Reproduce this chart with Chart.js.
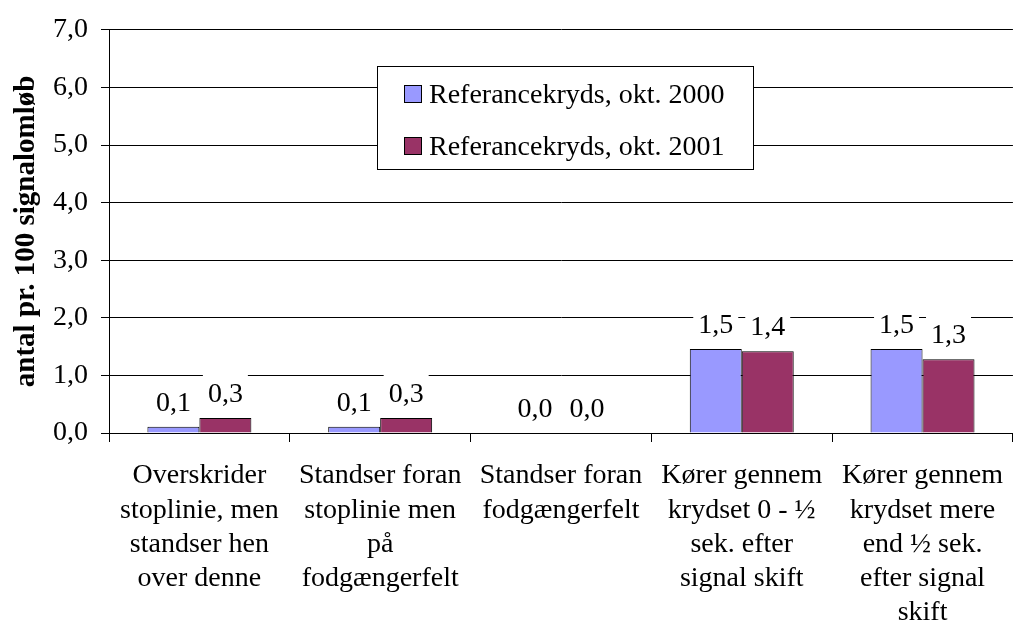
<!DOCTYPE html>
<html>
<head>
<meta charset="utf-8">
<script src="https://cdn.jsdelivr.net/npm/chart.js@4.4.1/dist/chart.umd.min.js"></script>
<style>
  body { margin: 0; background: #fff; overflow: hidden; }
</style>
</head>
<body>
<canvas id="chartKryds" width="1020" height="622"></canvas>
<script>
// data
const categories = [
    ['Overskrider', 'stoplinie, men', 'standser hen', 'over denne'],
    ['Standser foran', 'stoplinie men', 'på', 'fodgængerfelt'],
    ['Standser foran', 'fodgængerfelt'],
    ['Kører gennem', 'krydset 0 - ½', 'sek. efter', 'signal skift'],
    ['Kører gennem', 'krydset mere', 'end ½ sek.', 'efter signal', 'skift']
];
const serieLabels = ['Referancekryds, okt. 2000', 'Referancekryds, okt. 2001'];
const values2000 = [0.11, 0.11, 0.0, 1.46, 1.46];
const values2001 = [0.26, 0.26, 0.0, 1.42, 1.28];
const yTicks = [0, 1, 2, 3, 4, 5, 6, 7];

const FONT = '"Liberation Serif", "Times New Roman", serif';
const fmt = (v) => v.toFixed(1).replace('.', ',');

// etiketter over søjlerne, med hvid baggrund
const labelPlugin = {
    id: 'labelPlugin',
    afterDatasetsDraw(chart) {
        const ctx = chart.ctx;
        ctx.save();
        ctx.font = '28px ' + FONT;
        ctx.textAlign = 'center';
        ctx.textBaseline = 'alphabetic';
        chart.data.datasets.forEach((ds, i) => {
            const meta = chart.getDatasetMeta(i);
            meta.data.forEach((bar, j) => {
                const txt = fmt(ds.data[j]);
                const w = ctx.measureText(txt).width;
                const base = bar.y - 16;
                ctx.fillStyle = '#fff';
                ctx.fillRect(bar.x - w / 2 - 5, base - 28, w + 10, 34);
                ctx.fillStyle = '#000';
                ctx.fillText(txt, bar.x, base);
            });
        });
        ctx.restore();
    }
};

// legend i boks inde i plotområdet
const legendBox = {
    id: 'legendBox',
    afterDraw(chart) {
        const ctx = chart.ctx;
        ctx.save();
        ctx.fillStyle = '#fff';
        ctx.fillRect(377.5, 66.5, 376, 103);
        ctx.strokeStyle = '#000';
        ctx.lineWidth = 1;
        ctx.strokeRect(377.5, 66.5, 376, 103);
        ctx.font = '28px ' + FONT;
        ctx.textBaseline = 'alphabetic';
        chart.data.datasets.forEach((ds, i) => {
            const y = 94 + i * 52;
            ctx.fillStyle = ds.backgroundColor;
            ctx.fillRect(404.5, y - 8.5, 17, 17);
            ctx.strokeRect(404.5, y - 8.5, 17, 17);
            ctx.fillStyle = '#000';
            ctx.fillText(ds.label, 429, y + 9);
        });
        ctx.restore();
    }
};

const ctxBar = document.getElementById('chartKryds');
const chart = new Chart(ctxBar, {
    type: 'bar',
    data: {
        labels: categories,
        datasets: [{
            label: serieLabels[0],
            data: values2000,
            backgroundColor: '#9999FF',
            borderColor: '#000',
            borderWidth: 1,
            categoryPercentage: 0.575,
            barPercentage: 1
        }, {
            label: serieLabels[1],
            data: values2001,
            backgroundColor: '#993366',
            borderColor: '#000',
            borderWidth: 1,
            categoryPercentage: 0.575,
            barPercentage: 1
        }]
    },
    options: {
        responsive: false,
        animation: false,
        layout: { padding: { top: 28, right: 0, left: 0, bottom: 0 } },
        plugins: {
            legend: { display: false },
            tooltip: { enabled: false }
        },
        scales: {
            x: {
                grid: {
                    display: true,
                    drawOnChartArea: false,
                    drawTicks: true,
                    tickLength: 9,
                    color: '#000'
                },
                border: { color: '#000', width: 1 },
                ticks: {
                    color: '#000',
                    font: { family: FONT, size: 28, lineHeight: 1.22 },
                    maxRotation: 0,
                    autoSkip: false,
                    padding: 17
                },
                afterFit(scale) { scale.height = 189; }
            },
            y: {
                min: 0,
                max: 7,
                afterBuildTicks(scale) {
                    scale.ticks = yTicks.map(v => ({ value: v }));
                },
                grid: {
                    color: '#000',
                    tickLength: 8,
                    drawTicks: true
                },
                border: { color: '#000', width: 1 },
                ticks: {
                    color: '#000',
                    font: { family: FONT, size: 28 },
                    padding: 13,
                    callback: (v) => fmt(v)
                },
                title: {
                    display: true,
                    text: 'antal pr. 100 signalomløb',
                    color: '#000',
                    font: { family: FONT, size: 29, weight: 'bold' },
                    padding: { top: 9, bottom: 0 }
                },
                afterFit(scale) { scale.width = 109; }
            }
        }
    },
    plugins: [labelPlugin, legendBox]
});
</script>
</body>
</html>
